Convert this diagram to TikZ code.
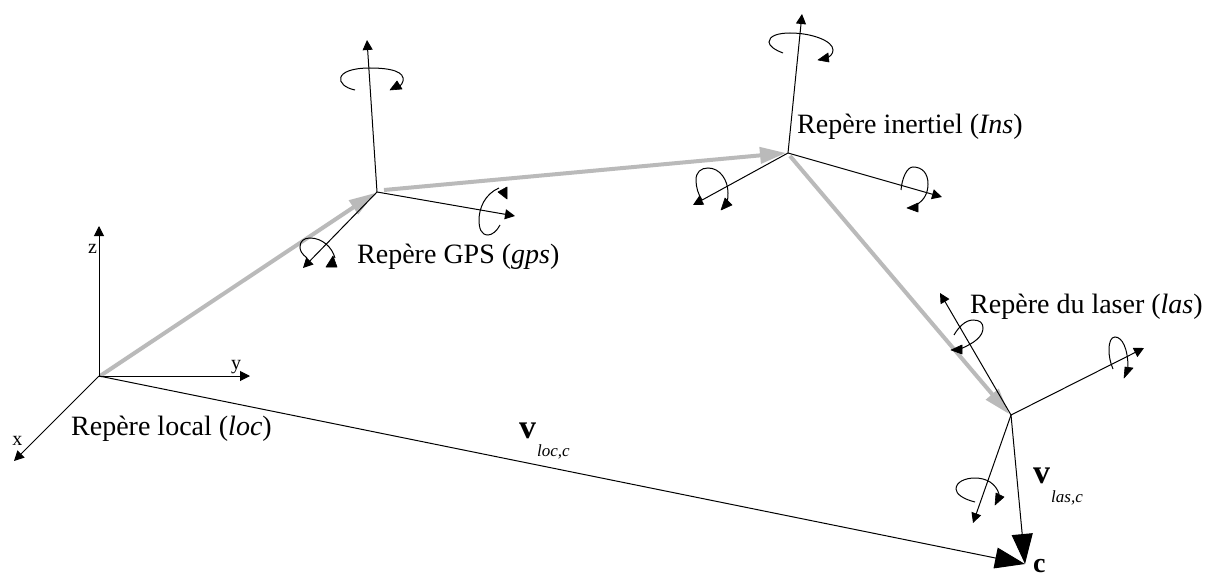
\documentclass[tikz,border=0pt]{standalone}
\usepackage{fontspec}
\setmainfont{Liberation Serif}
\usetikzlibrary{arrows.meta}
\tikzset{
  axis/.style={draw=black,line width=1pt,-{Triangle[length=10pt,width=10pt]}},
  vecbig/.style={draw=black,line width=1pt,-{Triangle[length=30pt,width=21pt]}},
  greyarrow/.style={draw=black!27,line width=4pt,-{Triangle[length=26pt,width=16pt]}},
  rotarc/.style={draw=black,line width=1pt},
  rothead/.style={fill=black,draw=black,line width=.6pt,line join=round},
  lab/.style={inner sep=0pt,anchor=base west,font=\fontsize{28}{30}\selectfont},
  axlab/.style={inner sep=0pt,anchor=base,font=\fontsize{20}{22}\selectfont},
  vlab/.style={inner sep=0pt,anchor=base west,font=\fontsize{34}{36}\selectfont\bfseries},
  sublab/.style={inner sep=0pt,anchor=base west,font=\fontsize{17}{18}\selectfont\itshape},
  clab/.style={inner sep=0pt,anchor=base west,font=\fontsize{28}{30}\selectfont\bfseries}
}
\begin{document}
\begin{tikzpicture}[x=1pt,y=-1pt]
\useasboundingbox (0,0) rectangle (1206,575);
\fill[white] (0,0) rectangle (1206,575);
% frame origins
\coordinate (L) at (99,376);
\coordinate (G) at (377,192);
\coordinate (I) at (788,153);
\coordinate (A) at (1011,415);
\coordinate (C) at (1025,564);
% axis tips
\coordinate (Lz) at (99,226);
\coordinate (Ly) at (250,376);
\coordinate (Lx) at (14,461);
\coordinate (Gu) at (367,40);
\coordinate (Gr) at (515,216);
\coordinate (Gd) at (303,268);
\coordinate (Iu) at (802,14);
\coordinate (Ir) at (942,197);
\coordinate (Id) at (693,205);
\coordinate (Au) at (940,293);
\coordinate (Ar) at (1144,348);
\coordinate (Ad) at (973,523);
% grey chain
\coordinate (g1s) at (100,376);
\coordinate (g1e) at (375,193);
\coordinate (g2s) at (384,190);
\coordinate (g2e) at (786,153);
\coordinate (g3s) at (790,156);
\coordinate (g3e) at (1009,414);
\draw[greyarrow] (g1s) -- (g1e);
\draw[greyarrow] (g2s) -- (g2e);
\draw[greyarrow] (g3s) -- (g3e);
% axes
\foreach \o/\t in {L/Lz,L/Ly,L/Lx,G/Gu,G/Gr,G/Gd,I/Iu,I/Ir,I/Id,A/Au,A/Ar,A/Ad}
  \draw[axis] (\o) -- (\t);
\draw[vecbig] (L) -- (C);
\draw[vecbig] (A) -- (C);
% rotation arcs: G
\draw[rotarc] (355,90) .. controls (335,86) and (332,68) .. (370,68) .. controls (392,68) and (405,72) .. (403,81) .. controls (402,85) and (399,87) .. (396,88);
\filldraw[rothead] (390,90) -- (402,89) -- (397,81) -- cycle;
\draw[rotarc] (500,225) .. controls (497,231) and (492,235) .. (488,235) .. controls (481,235) and (479,228) .. (479,220) .. controls (479,208) and (485,194) .. (499,188);
\filldraw[rothead] (498,192) -- (507,187) -- (507,199) -- cycle;
\draw[rotarc] (307,258) .. controls (302,254) and (300,251) .. (300,247) .. controls (300,241) and (304,238) .. (310,238) .. controls (322,238) and (332,247) .. (335,258);
\filldraw[rothead] (326,267) -- (337,267) -- (333,256) -- cycle;
% rotation arcs: I
\draw[rotarc] (783,53) .. controls (775,50) and (769,46) .. (769,42) .. controls (769,36) and (778,33) .. (790,33) .. controls (812,33) and (833,41) .. (833,50) .. controls (833,54) and (830,57) .. (825,59);
\filldraw[rothead] (818,60) -- (829,62) -- (828,53) -- cycle;
\draw[rotarc] (901,190) .. controls (902,178) and (907,167) .. (913,167) .. controls (922,167) and (928,173) .. (928,184) .. controls (928,192) and (925,200) .. (916,205);
\filldraw[rothead] (907,208) -- (918,212) -- (918,203) -- cycle;
\draw[rotarc] (702,200) .. controls (698,194) and (696,187) .. (696,180) .. controls (696,172) and (701,168) .. (708,168) .. controls (720,168) and (728,180) .. (728,193) .. controls (728,196) and (728,199) .. (727,202);
\filldraw[rothead] (721,210) -- (732,205) -- (725,198) -- cycle;
% rotation arcs: A
\draw[rotarc] (954,335) .. controls (958,328) and (965,320) .. (973,320) .. controls (980,320) and (983,323) .. (983,328) .. controls (983,336) and (975,343) .. (960,349);
\filldraw[rothead] (951,350) -- (962,345) -- (962,354) -- cycle;
\draw[rotarc] (1113,369) .. controls (1110,362) and (1109,356) .. (1109,350) .. controls (1109,342) and (1111,337) .. (1115,337) .. controls (1122,337) and (1128,348) .. (1128,368);
\filldraw[rothead] (1124,378) -- (1133,368) -- (1125,367) -- cycle;
\draw[rotarc] (975,502) .. controls (963,499) and (956,494) .. (956,489) .. controls (956,482) and (965,478) .. (975,478) .. controls (987,478) and (996,484) .. (999,494);
\filldraw[rothead] (995,505) -- (1004,497) -- (996,493) -- cycle;
% labels
\node[axlab] (zl) at (92.5,253) {z};
\node[axlab] (yl) at (236,369) {y};
\node[axlab] (xl) at (17.5,445) {x};
\node[lab] (loc) at (71,435) {Repère local (\textit{loc})};
\node[lab] (gps) at (357,263) {Repère GPS (\textit{gps})};
\node[lab] (ins) at (797,133) {Repère inertiel (\textit{Ins})};
\node[lab] (las) at (970,313) {Repère du laser (\textit{las})};
\node[vlab] (v1) at (519,438) {v};
\node[sublab] (s1) at (537,456) {loc,c};
\node[vlab] (v2) at (1033,483) {v};
\node[sublab] (s2) at (1051,502) {las,c};
\node[clab] (c) at (1033,572) {c};
\end{tikzpicture}
\end{document}
